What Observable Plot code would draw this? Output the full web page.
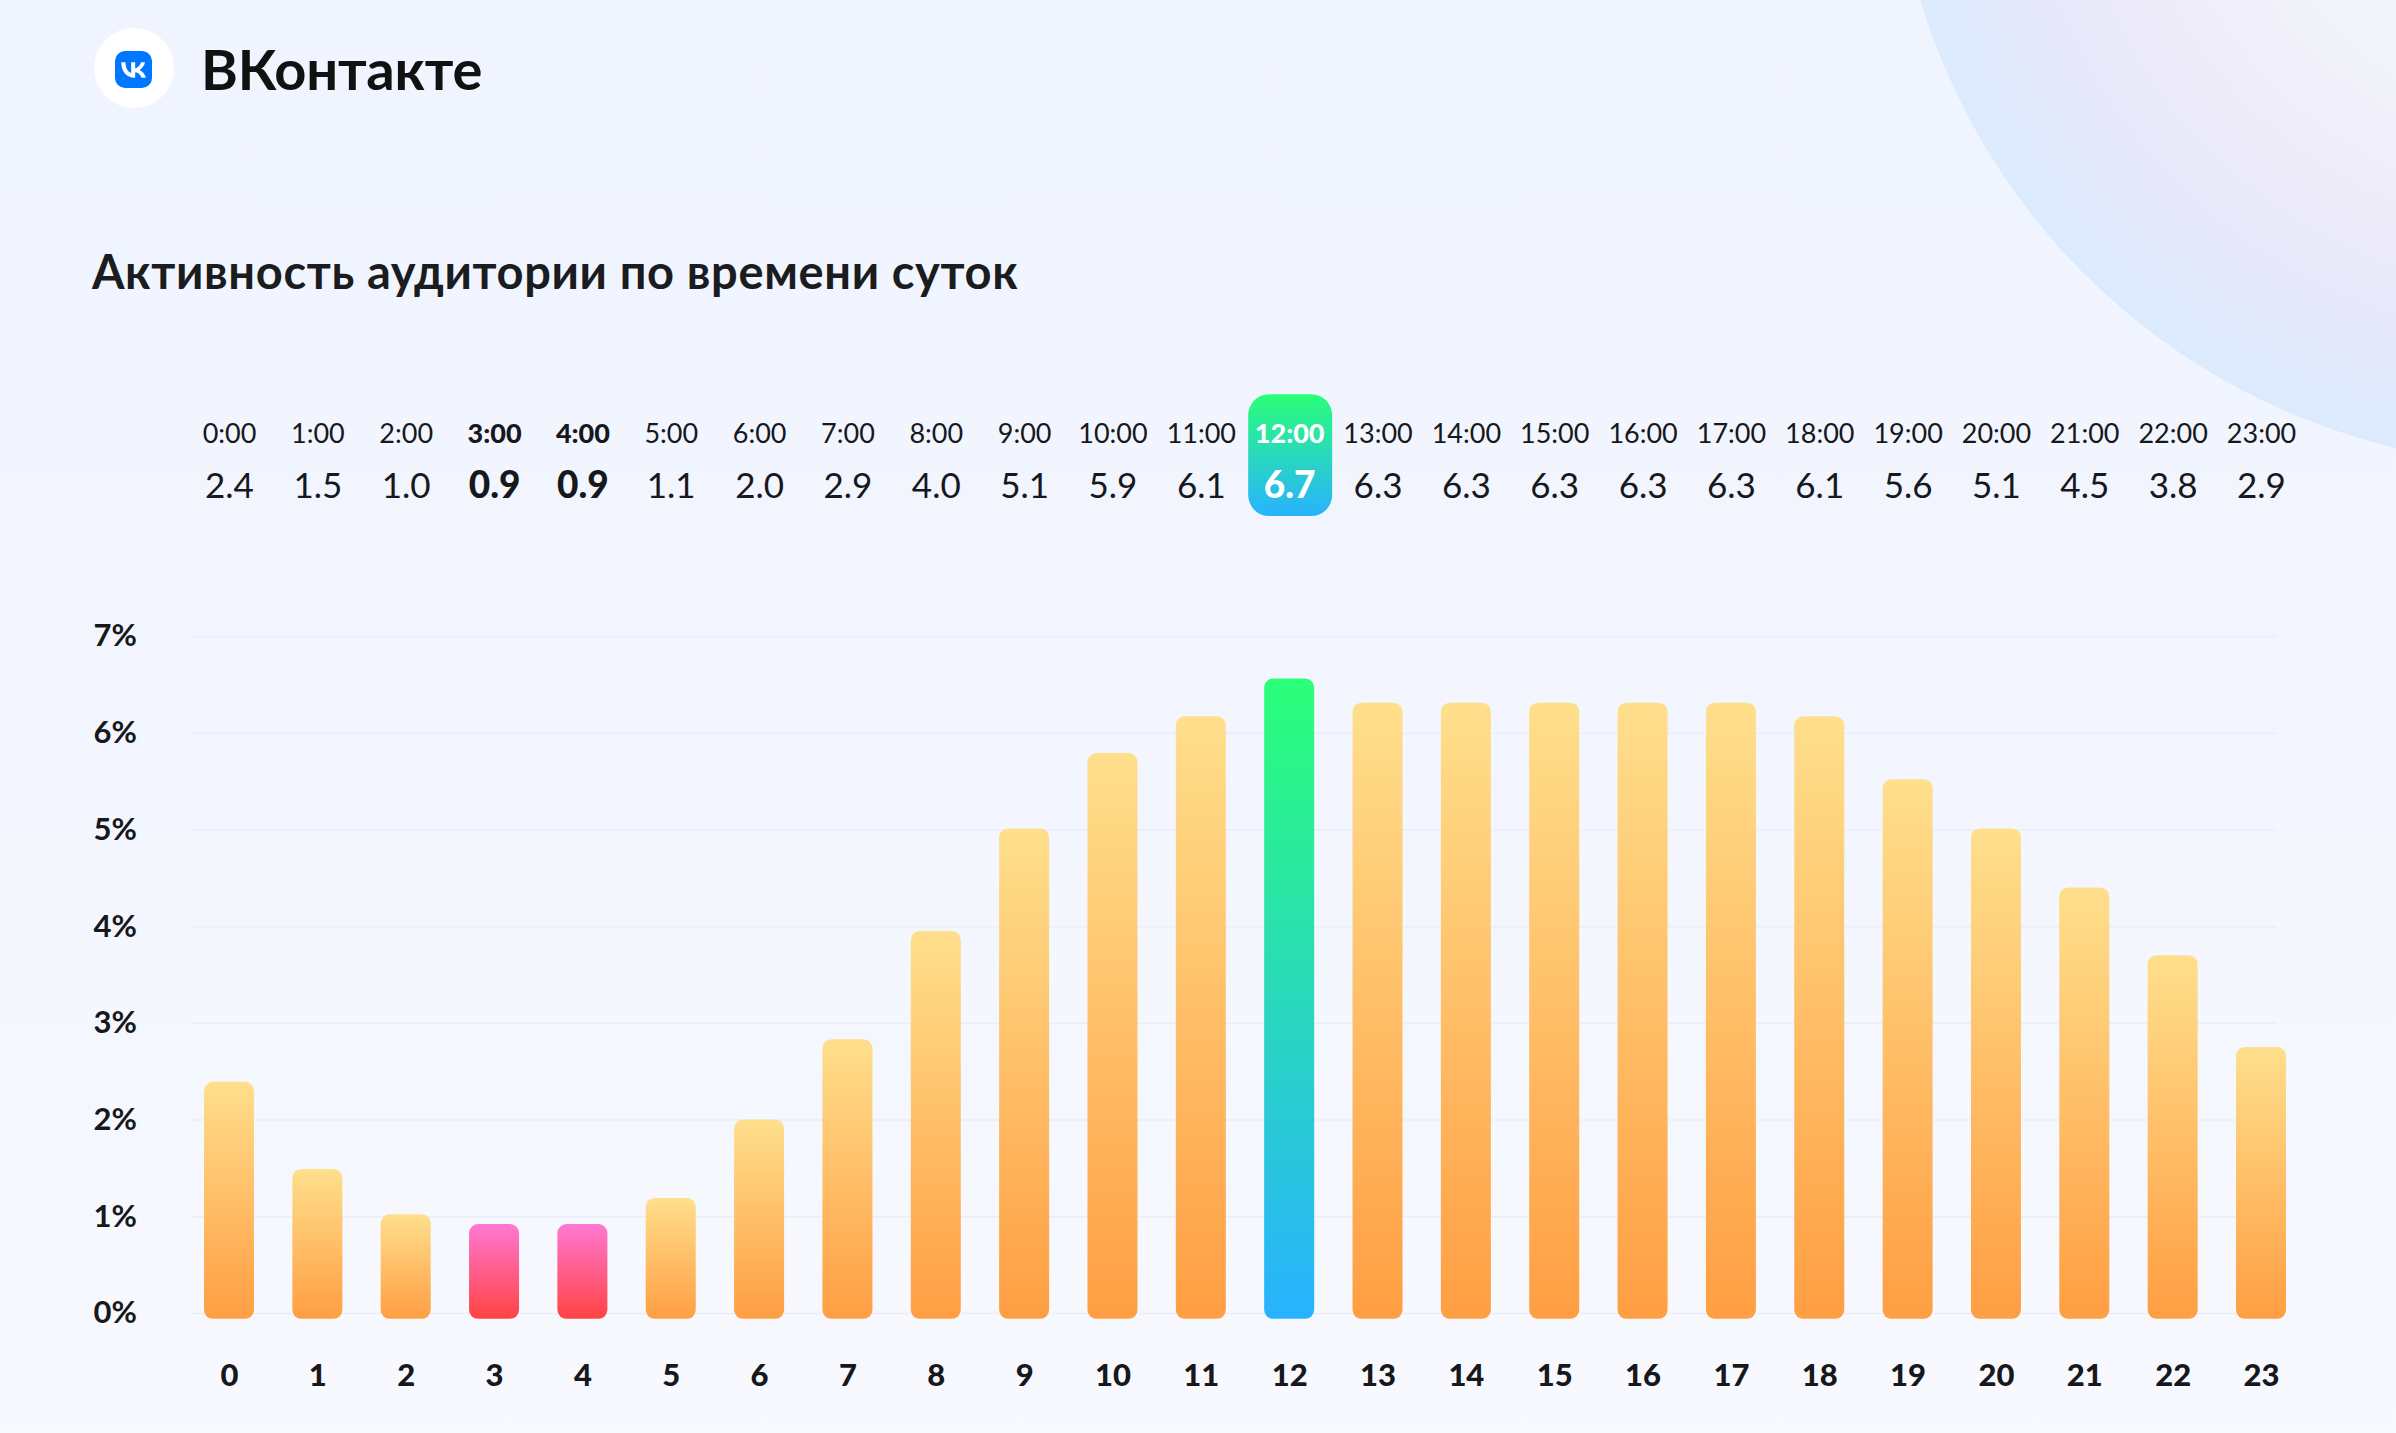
<!DOCTYPE html>
<html lang="ru">
<head>
<meta charset="utf-8">
<script src="https://cdn.jsdelivr.net/npm/d3@7"></script>
<script src="https://cdn.jsdelivr.net/npm/@observablehq/plot@0.6"></script>
<style>
  html, body { margin:0; padding:0; overflow:hidden; }
  body { width:2396px; height:1433px; position:relative; background:linear-gradient(180deg,#f0f4ff 0%,#f3f6fe 55%,#f7f9fe 100%); font-family:Lato,"Noto Sans",sans-serif; color:#16181c; }
  #arc { position:absolute; left:1892px; top:-846px; width:1312px; height:1312px; border-radius:50%;
    background:radial-gradient(circle closest-side at center,#f3f4fc 0%,#f2f3fb 45%,#eeebf9 66%,#e5e8fb 84%,#dbebfd 100%); }
  #disc { position:absolute; left:94px; top:28px; width:80px; height:80px; border-radius:50%; background:#fff; }
  #logo { position:absolute; left:115px; top:51px; width:37px; height:37px; }
  #brand { position:absolute; left:201px; top:38px; font-size:56px; line-height:62px; font-weight:700; color:#111; letter-spacing:-.2px; }
  #title { position:absolute; left:92px; top:245px; font-size:47px; line-height:52px; font-weight:700; color:#1a1c20; letter-spacing:.65px; }
  #chart { position:absolute; left:0; top:0; }
</style>
</head>
<body>
<div id="arc"></div>
<div id="disc"></div>
<svg id="logo" viewBox="0 0 48 48"><rect width="48" height="48" rx="13" fill="#0077ff"/><path fill="#fff" d="M25.54 34.58c-10.94 0-17.18-7.5-17.44-19.98h5.48c.18 9.16 4.22 13.04 7.42 13.84V14.6h5.16v7.9c3.16-.34 6.48-3.94 7.6-7.9h5.16c-.86 4.88-4.46 8.48-7.02 9.96 2.56 1.2 6.66 4.34 8.22 10.02h-5.68c-1.22-3.8-4.26-6.74-8.28-7.14v7.14h-.62z"/></svg>
<div id="brand">ВКонтакте</div>
<div id="title">Активность аудитории по времени суток</div>
<div id="chart"></div>
<script>
const hours = d3.range(24);
const hourLabels = ["0:00","1:00","2:00","3:00","4:00","5:00","6:00","7:00","8:00","9:00","10:00","11:00","12:00","13:00","14:00","15:00","16:00","17:00","18:00","19:00","20:00","21:00","22:00","23:00"];
const tableValues = ["2.4","1.5","1.0","0.9","0.9","1.1","2.0","2.9","4.0","5.1","5.9","6.1","6.7","6.3","6.3","6.3","6.3","6.3","6.1","5.6","5.1","4.5","3.8","2.9"];
const barValues = [2.39,1.49,1.02,0.92,0.92,1.19,2.0,2.83,3.95,5.01,5.79,6.17,6.56,6.31,6.31,6.31,6.31,6.31,6.17,5.52,5.01,4.4,3.7,2.75];
const yTicks = [0,1,2,3,4,5,6,7];
const lowHours = [3,4];
const peakHour = 12;

const rows = hours.map(h => ({hour:h, label:hourLabels[h], table:tableValues[h], value:barValues[h]}));
const barFill = d => d.hour === peakHour ? "url(#gPeak)" : lowHours.includes(d.hour) ? "url(#gLow)" : "url(#gBar)";
const isBold = d => d.hour === peakHour || lowHours.includes(d.hour);
const textFill = d => d.hour === peakHour ? "#ffffff" : "#16181c";
const ink = {value:textFill, scale:null};

const plot = Plot.plot({
  width:2396, height:1433,
  marginTop:0, marginRight:0, marginBottom:0, marginLeft:0,
  style:{background:"transparent", fontFamily:'Lato,"Noto Sans",sans-serif', color:"#16181c", overflow:"visible"},
  x:{type:"band", domain:hours, range:[204,2286], paddingInner:0.434, paddingOuter:0, round:false, label:null},
  y:{domain:[0,7], range:[1313,636], label:null},
  marks:[
    Plot.ruleY(yTicks, {stroke:"#ebedf8", strokeWidth:1.5, insetLeft:192, insetRight:119}),
    Plot.axisY({ticks:yTicks, anchor:"left", tickSize:0, tickPadding:0, textAnchor:"start", dx:93, dy:0, fontSize:31, fontWeight:700, tickFormat:d=>d+"%", label:null}),
    Plot.axisX({anchor:"bottom", tickSize:0, tickPadding:0, lineAnchor:"middle", dy:-57, fontSize:31, fontWeight:900, label:null}),
    // rounded bars that reach a little below the zero line, as in the source
    Plot.barY(rows, {x:"hour", y1:-0.06, y2:"value", fill:{value:barFill, scale:null}, rx:9}),
    // highlight behind the peak hour of the table
    Plot.barY(rows.filter(d=>d.hour===peakHour), {x:"hour", y1:8.24, y2:9.5, fill:"url(#gPeak)", rx:21, insetLeft:-16, insetRight:-18}),
    Plot.text(rows.filter(d=>!isBold(d)), {x:"hour", text:"label", frameAnchor:"top", dy:434, lineAnchor:"middle", fontSize:27, fill:"#16181c"}),
    Plot.text(rows.filter(isBold), {x:"hour", text:"label", frameAnchor:"top", dy:434, lineAnchor:"middle", fontSize:27, fontWeight:900, fill:ink}),
    Plot.text(rows.filter(d=>!isBold(d)), {x:"hour", text:"table", frameAnchor:"top", dy:486, lineAnchor:"middle", fontSize:35, fill:"#16181c"}),
    Plot.text(rows.filter(isBold), {x:"hour", text:"table", frameAnchor:"top", dy:486, lineAnchor:"middle", fontSize:37, fontWeight:900, fill:ink})
  ]
});

const defs = d3.select(plot).insert("defs", ":first-child");
[["gBar","#ffdf8c","#ff9e43"],["gLow","#ff78d2","#ff4343"],["gPeak","#2bff78","#28b2ff"]].forEach(([id,a,b]) => {
  const g = defs.append("linearGradient").attr("id",id).attr("x1",0).attr("y1",0).attr("x2",0).attr("y2",1);
  g.append("stop").attr("offset","0%").attr("stop-color",a);
  g.append("stop").attr("offset","100%").attr("stop-color",b);
});
document.getElementById("chart").append(plot);
</script>
</body>
</html>
